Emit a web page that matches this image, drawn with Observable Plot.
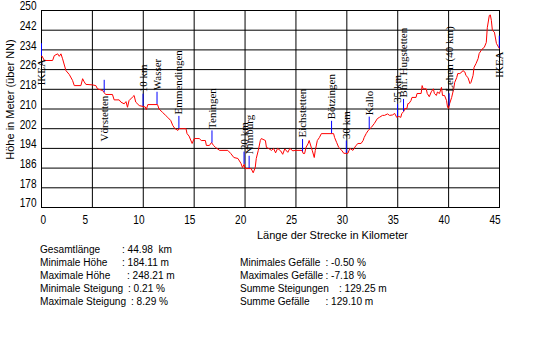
<!DOCTYPE html>
<html><head><meta charset="utf-8">
<script src="https://cdn.jsdelivr.net/npm/d3@7"></script>
<script src="https://cdn.jsdelivr.net/npm/@observablehq/plot@0.6"></script>
<style>body{margin:0;background:#fff}</style>
</head><body><div id="chart"></div>
<script>
// Elevation profile: distance (km) and height (m über NN)
const profileKm = [
  0, 0.05, 0.28, 1.09, 1.26, 1.59, 1.75, 1.91, 2.07, 2.4,
  2.73, 3.05, 3.22, 3.87, 4.04, 4.2, 4.36, 5.0, 5.34, 5.5,
  6.0, 6.3, 6.97, 7.14, 7.63, 7.8, 8.12, 8.3, 8.45, 8.6,
  8.93, 9.1, 9.26, 9.6, 10.0, 10.2, 10.3, 10.45, 11.4, 11.55,
  11.9, 12.2, 12.4, 12.7, 12.9, 13.1, 13.4, 13.5, 14.2, 14.3,
  14.5, 14.8, 15.0, 15.5, 15.7, 16.1, 16.2, 16.5, 16.7, 16.9,
  17.1, 17.5, 18.3, 18.6, 18.9, 19.3, 19.6, 19.75, 19.9, 20.0,
  20.6, 20.8, 21.0, 21.1, 21.3, 21.5, 21.6, 22.0, 22.1, 22.3,
  22.6, 22.8, 23.0, 23.2, 23.5, 23.7, 23.9, 24.2, 24.4, 24.7,
  24.9, 25.6, 25.7, 25.85, 26.0, 26.2, 26.3, 26.5, 26.6, 26.8,
  26.9, 27.1, 27.3, 27.5, 28.7, 28.8, 29.0, 29.2, 29.5, 29.7,
  30.1, 30.3, 30.6, 30.9, 31.1, 31.4, 31.6, 31.7, 31.9, 32.1,
  32.4, 32.7, 33.0, 33.2, 33.5, 33.7, 34.0, 34.2, 34.5, 34.7,
  34.9, 35.1, 35.3, 35.4, 35.6, 35.7, 35.9, 36.0, 36.1, 36.3,
  36.4, 36.8, 36.9, 37.3, 37.4, 37.5, 37.8, 37.9, 38.1, 38.3,
  38.5, 38.6, 38.8, 38.9, 39.1, 39.3, 39.4, 39.6, 39.8, 39.9,
  40.0, 40.1, 40.3, 40.5, 40.6, 40.8, 40.9, 41.1, 41.3, 41.4,
  41.6, 41.7, 41.9, 42.1, 42.2, 42.4, 42.5, 42.7, 42.9, 43.0,
  43.2, 43.3, 43.5, 43.7, 43.8, 44.0, 44.1, 44.2, 44.3, 44.5,
  44.7, 44.98
];
const profileElev = [
  231.5, 231.5, 229.7, 229.7, 231.7, 232.4, 231.4, 232.4, 230.4, 225.6,
  224.0, 221.6, 219.5, 219.5, 222.3, 221.0, 220.0, 219.8, 219.5, 218.2,
  217.5, 215.9, 215.9, 213.7, 213.7, 212.8, 212.1, 213.0, 210.7, 213.4,
  214.8, 215.5, 212.8, 211.4, 211.0, 210.8, 209.8, 211.8, 211.8, 210.0,
  208.6, 207.4, 206.6, 205.3, 203.3, 202.1, 201.3, 202.0, 202.0, 200.0,
  199.0, 196.0, 198.0, 198.0, 197.2, 197.2, 195.2, 195.2, 196.4, 195.2,
  194.4, 193.2, 193.2, 191.9, 190.3, 189.9, 187.9, 186.2, 187.5, 185.8,
  185.8, 184.1, 186.2, 189.9, 193.2, 197.2, 198.0, 197.2, 194.4, 194.0,
  193.2, 194.0, 192.2, 194.0, 193.0, 191.6, 193.8, 192.4, 194.0, 193.0,
  193.2, 193.2, 192.0, 191.9, 194.5, 196.0, 197.2, 194.5, 193.2, 190.3,
  193.2, 197.2, 198.4, 200.0, 200.0, 198.4, 196.4, 194.4, 193.2, 192.0,
  192.0, 194.0, 193.2, 195.2, 196.0, 196.0, 197.2, 198.4, 200.0, 201.3,
  202.5, 204.1, 206.1, 206.6, 207.4, 207.4, 208.0, 207.4, 207.6, 208.2,
  206.6, 207.0, 206.6, 208.2, 209.0, 210.2, 210.2, 212.2, 212.2, 213.4,
  214.7, 214.7, 216.3, 216.3, 219.5, 218.2, 218.2, 216.3, 215.0, 217.0,
  218.2, 216.3, 215.5, 216.9, 216.3, 218.8, 215.5, 215.5, 213.4, 210.6,
  210.2, 212.2, 214.7, 218.2, 220.8, 222.8, 224.4, 224.4, 225.0, 225.6,
  225.0, 223.6, 222.8, 220.3, 220.8, 223.6, 226.9, 228.5, 230.5, 232.5,
  233.8, 234.4, 235.0, 237.0, 243.0, 248.0, 248.2, 246.0, 241.9, 241.2,
  236.6, 234.6
];

// Waypoint labels
const labelNames = ["IKEA", "Vörstetten", "10 km", "Wasser", "Emmendingen", "Teningen", "20 km", "Nimburg",
  "Eichstetten", "Bötzingen", "30 km", "Kallo", "35 km", "Bhf. Hugstetten", "Lehen (40 km)", "IKEA"];
const labelKm = [0, 6.16, 9.98, 11.35, 13.5, 16.75, 19.9, 20.4,
  25.65, 28.5, 29.95, 32.2, 34.98, 35.57, 40.05, 44.98];
const labelsBelow = ["IKEA", "Vörstetten"];

// Ticks
const yTicks = [170, 178, 186, 194, 202, 210, 218, 226, 234, 242, 250];
const xTicks = [0, 5, 10, 15, 20, 25, 30, 35, 40, 45];

// Texts
const yTitle = "Höhe in Meter (über NN)";
const xTitle = "Länge der Strecke in Kilometer";
const statLabelsLeft = ["Gesamtlänge", "Minimale Höhe", "Maximale Höhe", "Minimale Steigung", "Maximale Steigung"];
const statValuesLeft = [": 44.98  km", ": 184.11 m", ": 248.21 m", ": 0.21 %", ": 8.29 %"];
const statLabelsRight = ["Minimales Gefälle", "Maximales Gefälle", "Summe Steigungen", "Summe Gefälle"];
const statValuesRight = [": -0.50 %", ": -7.18 %", ": 129.25 m", ": 129.10 m"];

// ---- build ----
const profile = profileKm.map((k, i) => ({km: k, elev: profileElev[i]}));
function elevAt(k) {
  const i = d3.bisectLeft(profileKm, k);
  if (i <= 0) return profileElev[0];
  if (i >= profileKm.length) return profileElev[profileElev.length - 1];
  const k0 = profileKm[i - 1], k1 = profileKm[i];
  const t = (k - k0) / (k1 - k0);
  return profileElev[i - 1] + t * (profileElev[i] - profileElev[i - 1]);
}
const labels = labelNames.map((n, i) => ({name: n, km: labelKm[i], elev: elevAt(labelKm[i])}));
const above = labels.filter(d => !labelsBelow.includes(d.name));
const below = labels.filter(d => labelsBelow.includes(d.name));

const sans = "'Liberation Sans', Arial, sans-serif";
const serif = "'Liberation Serif', serif";
const narrow = 0.84;     // horizontal condensing of tick labels
const statNarrow = 0.88; // horizontal condensing of the statistics

const chart = Plot.plot({
  width: 549, height: 338,
  marginLeft: 41, marginRight: 50, marginTop: 10, marginBottom: 131,
  x: {domain: [0, 45]},
  y: {domain: [170, 250]},
  style: {fontFamily: sans, fontSize: "12px", color: "black", background: "white"},
  marks: [
    Plot.gridY(yTicks, {stroke: "black", strokeOpacity: 1}),
    Plot.gridX(xTicks, {stroke: "black", strokeOpacity: 1}),
    Plot.frame({stroke: "black"}),
    Plot.line(profile, {x: "km", y: "elev", stroke: "#ff0000", strokeWidth: 1}),
    Plot.ruleX(labels, {x: "km", y1: "elev", y2: d => d.elev + 5, stroke: "#0000ff", strokeWidth: 1}),
    Plot.text(above, {x: "km", y: d => d.elev + 5, text: "name", rotate: -90, textAnchor: "start", dy: -2,
      fontFamily: serif, fontSize: 11, fill: "black"}),
    Plot.text(below, {x: "km", y: "elev", text: "name", rotate: -90, textAnchor: "end", dy: 3,
      fontFamily: serif, fontSize: 11, fill: "black"}),
    Plot.axisY(yTicks, {tickSize: 0, tickPadding: 5, dy: -4, label: null, fontSize: 12}),
    Plot.axisX(xTicks.slice(1), {tickSize: 0, tickPadding: 8, textAnchor: "start", dx: -10, label: null, fontSize: 12}),
    Plot.axisX(xTicks.slice(0, 1), {tickSize: 0, tickPadding: 8, textAnchor: "start", dx: -1, label: null, fontSize: 12})
  ]
});
document.getElementById("chart").append(chart);

const svg = d3.select(chart);
svg.selectAll('g[aria-label$="tick label"] text').each(function () {
  const t = this.getAttribute("transform") || "";
  this.setAttribute("transform", t + ` scale(${narrow},1)`);
});

// Titles and statistics as real SVG text
svg.append("text").text(yTitle)
  .attr("transform", "translate(14,99.5) rotate(-90)")
  .attr("text-anchor", "middle").attr("font-family", sans).attr("font-size", 11).attr("fill", "black");
svg.append("text").text(xTitle)
  .attr("x", 257).attr("y", 239.3).attr("text-anchor", "start")
  .attr("font-family", sans).attr("font-size", 11).attr("fill", "black");

const rowY = i => 252.5 + i * 13.2;
const leftColonX = [122, 122, 127, 128, 131];
const rightColonX = [325.5, 325.5, 339, 325.5];
function stat(x, y, s) {
  svg.append("text").text(s)
    .attr("transform", `translate(${x},${y}) scale(${statNarrow},1)`)
    .attr("text-anchor", "start")
    .attr("font-family", sans).attr("font-size", 11.5).attr("fill", "black")
    .style("white-space", "pre");
}
statLabelsLeft.forEach((s, i) => { stat(40, rowY(i), s); stat(leftColonX[i], rowY(i), statValuesLeft[i]); });
statLabelsRight.forEach((s, i) => { stat(240, rowY(i + 1), s); stat(rightColonX[i], rowY(i + 1), statValuesRight[i]); });
</script>
</body></html>
